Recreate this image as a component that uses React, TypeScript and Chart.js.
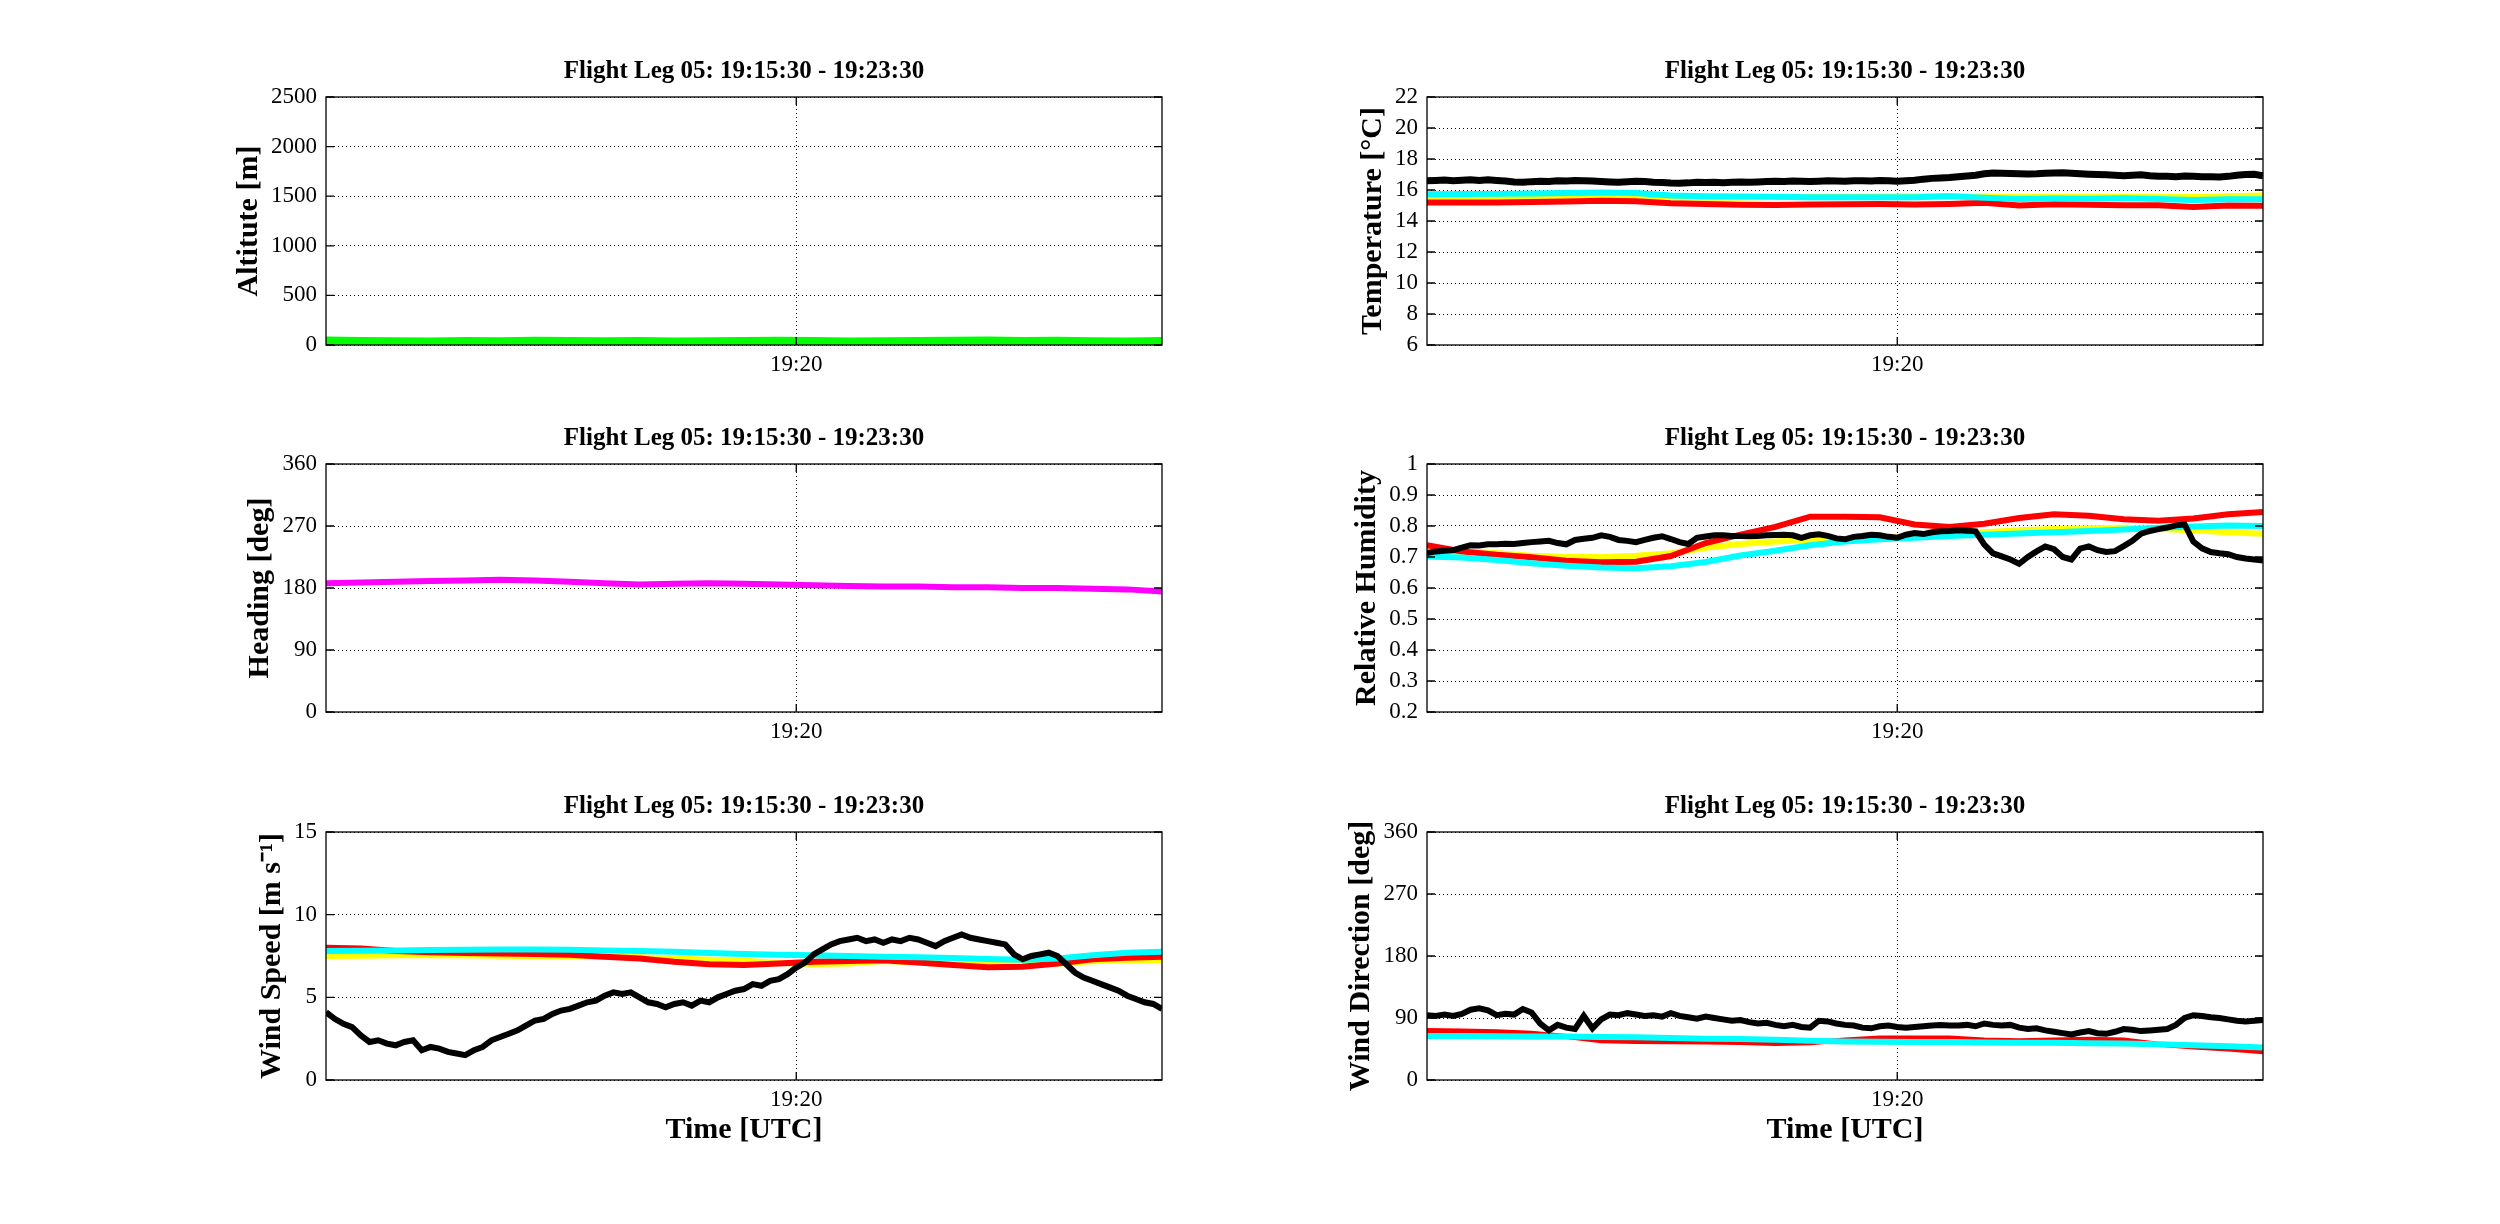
import React, { useEffect, useRef } from "react";
import { Chart, registerables } from "chart.js";

Chart.register(...registerables);

const FONT = '"Liberation Serif", "Times New Roman", serif';
const LEG_TITLE = "Flight Leg 05: 19:15:30 - 19:23:30";

// x axis: seconds after 19:15:30
const X_MIN = 0;
const X_MAX = 480;
const X_TICKS = [270];
const X_TICK_LABELS = ["19:20"];

// sample times (s) for the fine (5 s) and coarse (20 s) series
const T_FINE = Array.from({ length: 97 }, (_, i) => i * 5);
const T_COARSE = Array.from({ length: 25 }, (_, i) => i * 20);

// ---- altitude
const ALT_TICKS = [0, 500, 1000, 1500, 2000, 2500];
const altitude = [45, 40, 38, 35, 40, 38, 42, 40, 38, 40, 36, 38, 40, 42, 40, 36, 38, 40, 44, 45, 40, 42, 38, 36, 40];

// ---- heading
const HDG_TICKS = [0, 90, 180, 270, 360];
const heading = [187, 188, 189, 190, 191, 192, 191, 189, 187, 185, 186, 187, 186, 185, 184, 183, 182, 182, 181, 181, 180, 180, 179, 178, 175];

// ---- temperature
const TEMP_TICKS = [6, 8, 10, 12, 14, 16, 18, 20, 22];
const tempBlack = [
  16.6, 16.62, 16.65, 16.6, 16.63, 16.66, 16.62, 16.66, 16.62, 16.58,
  16.52, 16.5, 16.54, 16.56, 16.55, 16.6, 16.58, 16.62, 16.6, 16.58,
  16.55, 16.52, 16.5, 16.53, 16.56, 16.55, 16.5, 16.48, 16.45, 16.44,
  16.46, 16.5, 16.48, 16.5, 16.47, 16.5, 16.52, 16.5, 16.52, 16.55,
  16.56, 16.55, 16.58, 16.56, 16.55, 16.57, 16.6, 16.58, 16.56, 16.6,
  16.6, 16.58, 16.62, 16.6, 16.56, 16.6, 16.63, 16.7, 16.75, 16.78,
  16.8, 16.86, 16.9, 16.95, 17.05, 17.1, 17.08, 17.06, 17.05, 17.04,
  17.05, 17.08, 17.1, 17.12, 17.08, 17.05, 17.02, 17.0, 16.98, 16.95,
  16.92, 16.95, 16.98, 16.92, 16.88, 16.88, 16.86, 16.9, 16.88, 16.85,
  16.86, 16.84, 16.88, 16.95, 17.0, 17.02, 16.92,
];
const tempCyan = [15.73, 15.74, 15.75, 15.77, 15.8, 15.84, 15.8, 15.65, 15.6, 15.58, 15.56, 15.54, 15.53, 15.53, 15.54, 15.6, 15.5, 15.42, 15.45, 15.44, 15.46, 15.42, 15.35, 15.4, 15.41];
const tempRed = [15.19, 15.2, 15.2, 15.22, 15.26, 15.3, 15.28, 15.15, 15.1, 15.05, 15.04, 15.06, 15.08, 15.09, 15.07, 15.1, 15.17, 15.0, 15.08, 15.05, 15.02, 15.02, 14.9, 15.0, 14.98];
const tempYellow = [15.5, 15.5, 15.52, 15.55, 15.55, 15.58, 15.55, 15.5, 15.5, 15.52, 15.55, 15.56, 15.57, 15.58, 15.6, 15.62, 15.58, 15.55, 15.56, 15.57, 15.56, 15.55, 15.55, 15.6, 15.65];

// ---- relative humidity
const RH_TICKS = [0.2, 0.3, 0.4, 0.5, 0.6, 0.7, 0.8, 0.9, 1];
const RH_TICK_LABELS = ["0.2", "0.3", "0.4", "0.5", "0.6", "0.7", "0.8", "0.9", "1"];
const rhBlack = [
  0.713, 0.718, 0.72, 0.722, 0.73, 0.738, 0.737, 0.741, 0.741, 0.743,
  0.742, 0.745, 0.748, 0.75, 0.752, 0.745, 0.741, 0.755, 0.759, 0.762,
  0.77, 0.765, 0.755, 0.752, 0.748, 0.755, 0.762, 0.767, 0.758, 0.748,
  0.742, 0.762, 0.766, 0.77, 0.77, 0.768, 0.768, 0.767, 0.768, 0.77,
  0.771, 0.772, 0.77, 0.762, 0.77, 0.773, 0.768, 0.76, 0.757, 0.765,
  0.768, 0.772, 0.77, 0.765, 0.762, 0.772, 0.777, 0.774, 0.78, 0.783,
  0.784, 0.786, 0.785, 0.783, 0.74, 0.712, 0.702, 0.692, 0.678, 0.7,
  0.718, 0.734, 0.725, 0.7, 0.692, 0.727, 0.734, 0.722, 0.716, 0.719,
  0.735, 0.752, 0.775, 0.784, 0.79, 0.795, 0.802, 0.805, 0.75, 0.728,
  0.716, 0.712, 0.709, 0.7, 0.695, 0.692, 0.689,
];
const rhRed = [0.738, 0.718, 0.707, 0.699, 0.688, 0.683, 0.685, 0.703, 0.745, 0.772, 0.797, 0.83, 0.83, 0.828, 0.805, 0.797, 0.807, 0.826, 0.838, 0.833, 0.822, 0.817, 0.824, 0.838, 0.845];
const rhYellow = [0.72, 0.718, 0.712, 0.704, 0.7, 0.7, 0.704, 0.712, 0.73, 0.742, 0.75, 0.755, 0.759, 0.762, 0.766, 0.773, 0.78, 0.786, 0.79, 0.793, 0.794, 0.79, 0.786, 0.78, 0.775];
const rhCyan = [0.702, 0.698, 0.69, 0.68, 0.672, 0.666, 0.664, 0.67, 0.684, 0.705, 0.72, 0.738, 0.75, 0.757, 0.762, 0.768, 0.772, 0.776, 0.78, 0.784, 0.789, 0.794, 0.798, 0.802, 0.8];

// ---- wind speed
const WS_TICKS = [0, 5, 10, 15];
const wsBlack = [
  4.1, 3.7, 3.4, 3.2, 2.7, 2.3, 2.4, 2.2, 2.1, 2.3,
  2.4, 1.8, 2.0, 1.9, 1.7, 1.6, 1.5, 1.8, 2.0, 2.4,
  2.6, 2.8, 3.0, 3.3, 3.6, 3.7, 4.0, 4.2, 4.3, 4.5,
  4.7, 4.8, 5.1, 5.3, 5.2, 5.3, 5.0, 4.7, 4.6, 4.4,
  4.6, 4.7, 4.5, 4.8, 4.7, 5.0, 5.2, 5.4, 5.5, 5.8,
  5.7, 6.0, 6.1, 6.4, 6.8, 7.1, 7.6, 7.9, 8.2, 8.4,
  8.5, 8.6, 8.4, 8.5, 8.3, 8.5, 8.4, 8.6, 8.5, 8.3,
  8.1, 8.4, 8.6, 8.8, 8.6, 8.5, 8.4, 8.3, 8.2, 7.6,
  7.3, 7.5, 7.6, 7.7, 7.5, 7.0, 6.5, 6.2, 6.0, 5.8,
  5.6, 5.4, 5.1, 4.9, 4.7, 4.6, 4.3,
];
const wsCyan = [7.8, 7.82, 7.84, 7.86, 7.88, 7.9, 7.9, 7.88, 7.84, 7.8, 7.75, 7.68, 7.62, 7.58, 7.55, 7.5, 7.45, 7.42, 7.38, 7.32, 7.28, 7.35, 7.55, 7.7, 7.75];
const wsRed = [8.0, 7.95, 7.8, 7.72, 7.68, 7.65, 7.62, 7.58, 7.45, 7.35, 7.15, 7.0, 6.95, 7.05, 7.15, 7.2, 7.25, 7.1, 6.95, 6.82, 6.85, 7.05, 7.3, 7.4, 7.45];
const wsYellow = [7.5, 7.52, 7.54, 7.55, 7.54, 7.52, 7.5, 7.48, 7.45, 7.42, 7.35, 7.28, 7.22, 7.08, 7.02, 7.05, 7.2, 7.1, 7.0, 7.0, 7.0, 7.05, 7.18, 7.25, 7.25];

// ---- wind direction
const WD_TICKS = [0, 90, 180, 270, 360];
const wdBlack = [
  94, 93, 95, 93, 96, 102, 104, 101, 94, 96,
  95, 103, 98, 82, 72, 80, 76, 74, 93, 75,
  88, 95, 94, 97, 95, 93, 94, 92, 97, 93,
  91, 89, 92, 90, 88, 86, 87, 84, 82, 83,
  80, 78, 80, 77, 76, 86, 85, 82, 80, 79,
  76, 75, 78, 79, 77, 76, 77, 78, 79, 80,
  79, 79, 80, 78, 82, 80, 79, 80, 76, 74,
  75, 72, 70, 68, 66, 69, 71, 68, 67, 70,
  74, 73, 71, 72, 73, 74, 80, 90, 94, 93,
  91, 90, 88, 86, 85, 86, 87,
];
const wdCyan = [64, 64, 63.5, 63, 63, 62.5, 62, 61, 60, 59.5, 58.5, 57, 56, 55.5, 55, 55, 54.5, 54, 54, 53.5, 53, 52, 50.5, 49, 47];
const wdRed = [72, 71, 70, 68, 63, 57, 56, 55.5, 55, 54.5, 53, 54, 58, 61, 61, 61, 58, 57, 58, 59, 58, 52, 48, 45, 41];
const wdYellow = [63, 63, 63, 62.5, 62, 62, 61.5, 60.5, 59.5, 59, 58, 56.5, 55.5, 55, 54.5, 54.5, 54, 53.5, 53, 53, 52.5, 51.5, 50, 48.5, 46.5];

const BLACK = "#000000";
const RED = "#ff0000";
const YELLOW = "#ffff00";
const CYAN = "#00ffff";

// layout of each panel (page pixels)
const PLOT_W = 836;
const PLOT_H = 248;
const Y_AXIS_W = 200;
const TOP_BOX = 60;
const PAD_R = 20;
const TICK_LEN = 8;

interface Series {
  t: number[];
  v: number[];
  color: string;
  width: number;
}

interface PanelSpec {
  plotLeft: number;
  plotTop: number;
  yTitle: string;
  yMin: number;
  yMax: number;
  yTicks: number[];
  yLabels?: string[];
  series: Series[];
  showXTitle: boolean;
}

const LEFT_X = 326;
const RIGHT_X = 1427;
const ROW_Y = [97, 464, 832];

const panels: PanelSpec[] = [
  {
    plotLeft: LEFT_X, plotTop: ROW_Y[0], yTitle: "Altitute [m]",
    yMin: 0, yMax: 2500, yTicks: ALT_TICKS, showXTitle: false,
    series: [{ t: T_COARSE, v: altitude, color: "#00ff00", width: 8 }],
  },
  {
    plotLeft: RIGHT_X, plotTop: ROW_Y[0], yTitle: "Temperature [°C]",
    yMin: 6, yMax: 22, yTicks: TEMP_TICKS, showXTitle: false,
    series: [
      { t: T_FINE, v: tempBlack, color: BLACK, width: 7 },
      { t: T_COARSE, v: tempCyan, color: CYAN, width: 6 },
      { t: T_COARSE, v: tempRed, color: RED, width: 6 },
      { t: T_COARSE, v: tempYellow, color: YELLOW, width: 6 },
    ],
  },
  {
    plotLeft: LEFT_X, plotTop: ROW_Y[1], yTitle: "Heading [deg]",
    yMin: 0, yMax: 360, yTicks: HDG_TICKS, showXTitle: false,
    series: [{ t: T_COARSE, v: heading, color: "#ff00ff", width: 6 }],
  },
  {
    plotLeft: RIGHT_X, plotTop: ROW_Y[1], yTitle: "Relative Humidity",
    yMin: 0.2, yMax: 1, yTicks: RH_TICKS, yLabels: RH_TICK_LABELS, showXTitle: false,
    series: [
      { t: T_FINE, v: rhBlack, color: BLACK, width: 6 },
      { t: T_COARSE, v: rhCyan, color: CYAN, width: 6 },
      { t: T_COARSE, v: rhRed, color: RED, width: 6 },
      { t: T_COARSE, v: rhYellow, color: YELLOW, width: 6 },
    ],
  },
  {
    plotLeft: LEFT_X, plotTop: ROW_Y[2], yTitle: "Wind Speed [m s⁻¹]",
    yMin: 0, yMax: 15, yTicks: WS_TICKS, showXTitle: true,
    series: [
      { t: T_FINE, v: wsBlack, color: BLACK, width: 6 },
      { t: T_COARSE, v: wsCyan, color: CYAN, width: 6 },
      { t: T_COARSE, v: wsRed, color: RED, width: 6 },
      { t: T_COARSE, v: wsYellow, color: YELLOW, width: 6 },
    ],
  },
  {
    plotLeft: RIGHT_X, plotTop: ROW_Y[2], yTitle: "Wind Direction [deg]",
    yMin: 0, yMax: 360, yTicks: WD_TICKS, showXTitle: true,
    series: [
      { t: T_FINE, v: wdBlack, color: BLACK, width: 6 },
      { t: T_COARSE, v: wdCyan, color: CYAN, width: 6 },
      { t: T_COARSE, v: wdRed, color: RED, width: 5 },
      { t: T_COARSE, v: wdYellow, color: YELLOW, width: 5 },
    ],
  },
];

// box with inward tick marks, drawn over the data
const framePlugin = {
  id: "matlabFrame",
  afterDatasetsDraw(chart: any) {
    const { ctx, chartArea } = chart;
    const { left, right, top, bottom } = chartArea;
    const xs = chart.scales.x;
    const ys = chart.scales.y;
    ctx.save();
    ctx.setLineDash([]);
    ctx.strokeStyle = "#000";
    ctx.lineWidth = 1.3;
    ctx.strokeRect(left, top, right - left, bottom - top);
    ctx.beginPath();
    ys.ticks.forEach((tk: any) => {
      const p = ys.getPixelForValue(tk.value);
      ctx.moveTo(left, p);
      ctx.lineTo(left + TICK_LEN, p);
      ctx.moveTo(right, p);
      ctx.lineTo(right - TICK_LEN, p);
    });
    xs.ticks.forEach((tk: any) => {
      const p = xs.getPixelForValue(tk.value);
      ctx.moveTo(p, bottom);
      ctx.lineTo(p, bottom - TICK_LEN);
      ctx.moveTo(p, top);
      ctx.lineTo(p, top + TICK_LEN);
    });
    ctx.stroke();
    ctx.restore();
  },
};

const TICK_FONT = { family: FONT, size: 23 };
const LABEL_FONT = { family: FONT, size: 30, weight: "bold" as const };

function textWidth(s: string, font: string): number {
  const c = document.createElement("canvas").getContext("2d");
  if (!c) return s.length * 12;
  c.font = font;
  return c.measureText(s).width;
}

const Panel: React.FC<{ spec: PanelSpec }> = ({ spec }) => {
  const ref = useRef<HTMLCanvasElement | null>(null);
  const xH = spec.showXTitle ? 80 : 50;
  const width = Y_AXIS_W + PLOT_W + PAD_R;
  const height = TOP_BOX + PLOT_H + xH;

  useEffect(() => {
    if (!ref.current) return;
    const labels = spec.yLabels ?? spec.yTicks.map((v) => String(v));
    const maxLabelW = Math.max(...labels.map((l) => textWidth(l, `23px ${FONT}`)));
    // put the rotated title just left of the tick labels
    const titlePadTop = Math.max(0, Y_AXIS_W - 18 - 9 - maxLabelW - 22);

    const chart = new Chart(ref.current, {
      type: "line",
      data: {
        datasets: spec.series.map((s) => ({
          data: s.t.map((x, i) => ({ x, y: s.v[i] })),
          borderColor: s.color,
          backgroundColor: s.color,
          borderWidth: s.width,
          pointRadius: 0,
          fill: false,
          tension: 0,
        })),
      },
      options: {
        responsive: false,
        animation: false,
        events: [],
        layout: { padding: { left: 0, right: PAD_R, top: 0, bottom: 0 } },
        plugins: {
          legend: { display: false },
          tooltip: { enabled: false },
          title: {
            display: true,
            fullSize: false,
            text: LEG_TITLE,
            color: "#000",
            font: { family: FONT, size: 25, weight: "bold" },
            padding: { top: 20, bottom: 10 },
          },
        },
        scales: {
          x: {
            type: "linear",
            min: X_MIN,
            max: X_MAX,
            afterBuildTicks: (s: any) => {
              s.ticks = X_TICKS.map((value) => ({ value }));
            },
            afterFit: (s: any) => {
              s.height = xH;
            },
            ticks: {
              autoSkip: false,
              maxRotation: 0,
              padding: 6,
              color: "#000",
              font: TICK_FONT,
              callback: (v: any) => X_TICK_LABELS[X_TICKS.indexOf(Number(v))] ?? "",
            },
            grid: { color: "#000", lineWidth: 1, drawTicks: false },
            border: { display: false, dash: [1, 3] },
            title: {
              display: spec.showXTitle,
              text: "Time [UTC]",
              color: "#000",
              font: LABEL_FONT,
              padding: { top: 0, bottom: 12 },
            },
          },
          y: {
            type: "linear",
            min: spec.yMin,
            max: spec.yMax,
            afterBuildTicks: (s: any) => {
              s.ticks = spec.yTicks.map((value) => ({ value }));
            },
            afterFit: (s: any) => {
              s.width = Y_AXIS_W;
            },
            ticks: {
              autoSkip: false,
              padding: 9,
              color: "#000",
              font: TICK_FONT,
              callback: (v: any) => {
                const i = spec.yTicks.findIndex((t) => Math.abs(t - Number(v)) < 1e-9);
                return i >= 0 ? labels[i] : "";
              },
            },
            grid: { color: "#000", lineWidth: 1, drawTicks: false },
            border: { display: false, dash: [1, 3] },
            title: {
              display: true,
              text: spec.yTitle,
              color: "#000",
              font: LABEL_FONT,
              padding: { top: titlePadTop, bottom: 0 },
            },
          },
        },
      } as any,
      plugins: [framePlugin],
    });

    return () => {
      chart.destroy();
    };
  }, [spec, xH]);

  return (
    <canvas
      ref={ref}
      width={width}
      height={height}
      style={{
        position: "absolute",
        left: spec.plotLeft - Y_AXIS_W,
        top: spec.plotTop - TOP_BOX,
        width,
        height,
      }}
    />
  );
};

export default function App() {
  return (
    <div style={{ position: "absolute", left: 0, top: 0, width: 2500, height: 1224, background: "#fff" }}>
      {panels.map((p, i) => (
        <Panel key={i} spec={p} />
      ))}
    </div>
  );
}
